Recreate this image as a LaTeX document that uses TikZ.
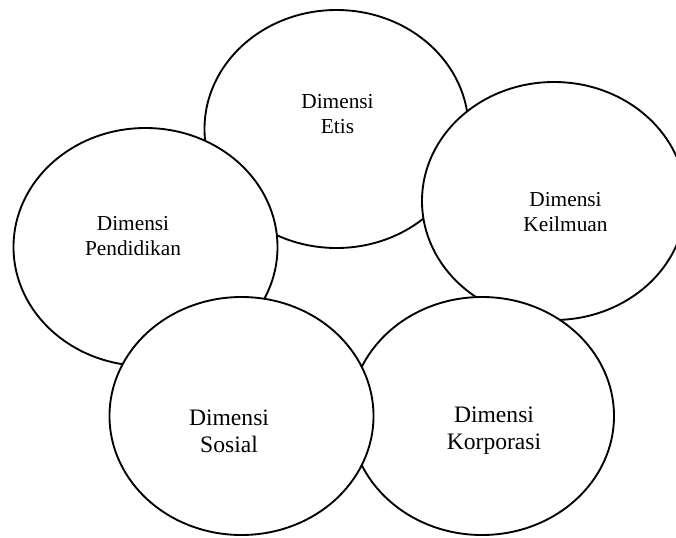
\documentclass[tikz,border=0pt]{standalone}
\usepackage{fontspec}
\setmainfont{Liberation Serif}
\usepackage{tikz}
\usetikzlibrary{shapes.geometric,positioning}
\tikzstyle{dimensi}=[ellipse, draw, fill=white, line width=1.4pt,
                     minimum width=198pt, minimum height=178.5pt,
                     inner sep=0pt, outer sep=0pt]
\tikzstyle{kecil} =[align=center, inner sep=0pt,
                    font=\fontsize{16}{18.75}\selectfont]
\tikzstyle{besar} =[align=center, inner sep=0pt,
                    font=\fontsize{17.7}{20.25}\selectfont]

\begin{document}
\begin{tikzpicture}[x=0.75pt,y=-0.75pt]
    \useasboundingbox (0,0) rectangle (676,537);
    \clip (0,0) rectangle (676,537);

    \draw (336.5,129) node (etis) [dimensi] {};
    \draw (554,201) node (keilmuan) [dimensi] {};
    \draw (482,416) node (korporasi) [dimensi] {};
    \draw (145.5,247) node (pendidikan) [dimensi] {};
    \draw (241.5,416) node (sosial) [dimensi] {};

    \draw (337.5,114) node (tEtis) [kecil] {Dimensi\\Etis};
    \draw (565.5,212) node (tKeilmuan) [kecil] {Dimensi\\Keilmuan};
    \draw (133,236) node (tPendidikan) [kecil] {Dimensi\\Pendidikan};
    \draw (229,431) node (tSosial) [besar] {Dimensi\\Sosial};
    \draw (494,431) node (tKorporasi) [besar] {Dimensi\\Korporasi};

\end{tikzpicture}
\end{document}
